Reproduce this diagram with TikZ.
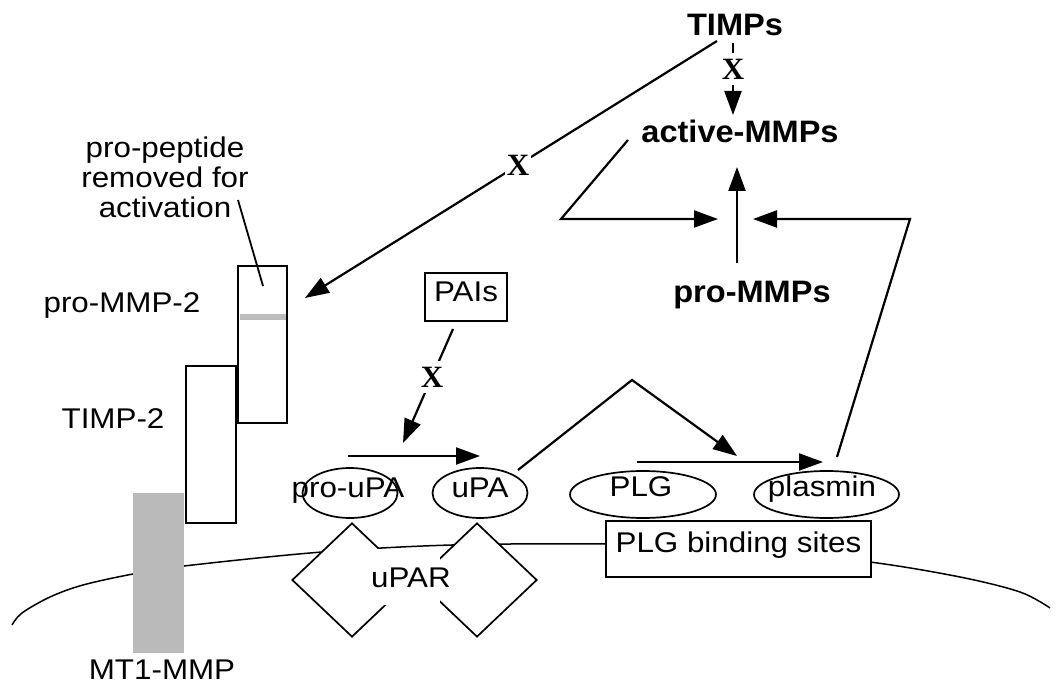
\documentclass[tikz,border=0pt]{standalone}
\usepackage{fontspec}
\setmainfont{Liberation Sans}[FakeStretch=1.1]
\newfontfamily\headfont{Liberation Sans}[FakeStretch=1.05]
\newfontfamily\markfont{Liberation Serif}
\usetikzlibrary{arrows.meta,shapes.geometric}
\definecolor{mtgray}{gray}{0.73}
\definecolor{bandgray}{gray}{0.74}

\begin{document}
\begin{tikzpicture}[x=1pt,y=-1pt,
  lbl/.style={font=\fontsize{28.5}{30}\selectfont, inner sep=0pt},
  head/.style={font=\headfont\bfseries\fontsize{31}{34}\selectfont, inner sep=0pt},
  xmark/.style={font=\markfont\bfseries\fontsize{31}{31}\selectfont, fill=white,
                inner sep=0pt, minimum width=26pt, minimum height=32pt},
  arr/.style={line width=2.2pt, -{Triangle[length=24pt,width=17pt]}},
  pointer/.style={line width=1.8pt},
  frame/.style={draw, line width=1.7pt, inner sep=0pt},
  blob/.style={draw, ellipse, line width=1.7pt, inner sep=0pt},
  rhomb/.style={draw, diamond, fill=white, line width=1.7pt, inner sep=0pt,
                minimum width=120pt, minimum height=114pt},
]
\useasboundingbox (0,0) rectangle (1061,684);

% cell membrane
\draw[line width=1.5pt] plot[smooth, tension=0.55] coordinates {
  (12,625) (22,613) (50,597) (83,585) (133,574) (184,566) (322,552)
  (452,545) (605,544) (740,548) (870,562) (960,577) (1020,592) (1050,608)};

% MT1-MMP / TIMP-2 / pro-MMP-2 complex
\node[fill=mtgray, inner sep=0pt, minimum width=51pt, minimum height=160pt] (mt1) at (158.5,573) {};
\node[frame, minimum width=50pt, minimum height=157pt] (timp2box) at (211,444.5) {};
\node[frame, minimum width=49pt, minimum height=157pt] (mmp2box) at (262.5,344.5) {};
\fill[bandgray] (239.5,314) rectangle (285.5,320);

\node[lbl, anchor=base] (mmp2) at (122,313) {pro-MMP-2};
\node[lbl, anchor=base] (timp2) at (113,429) {TIMP-2};
\node[lbl, anchor=base] (mt1lbl) at (162,679) {MT1-MMP};
\node[lbl, align=center, anchor=north] (prop) at (165,137) {pro-peptide\\removed for\\activation};
\coordinate (propA) at (238,200);
\coordinate (propB) at (263,286);
\draw[pointer] (propA) -- (propB);

% uPAR pair
\node[rhomb] (uparL) at (352,580) {};
\node[rhomb] (uparR) at (477,580) {};
\fill[white] (378,549) rectangle (440,605);
\node[lbl, anchor=base] (upar) at (411,587) {uPAR};

% ligands on the surface
\node[lbl, anchor=base] (proupaT) at (348,498) {pro-uPA};
\node[blob, minimum width=95pt, minimum height=50pt] (proupa) at (350,493) {};
\node[lbl, anchor=base] (upaT) at (480,498) {uPA};
\node[blob, minimum width=95pt, minimum height=50pt] (upa) at (480,493) {};
\node[lbl, anchor=base] (plgT) at (641,497) {PLG};
\node[blob, minimum width=146pt, minimum height=47pt] (plg) at (643,494.5) {};
\node[lbl, anchor=base] (plasminT) at (822,497) {plasmin};
\node[blob, minimum width=145pt, minimum height=47pt] (plasmin) at (826.5,494.5) {};
\node[frame, lbl, fill=white, minimum width=265pt, minimum height=56pt,
      text height=19pt, text depth=11pt] (sites) at (738.5,549) {PLG binding sites};

% inhibitors and MMP species
\node[frame, lbl, minimum width=82pt, minimum height=48pt,
      text height=19pt, text depth=9pt] (pais) at (466,297) {PAIs};
\node[head, anchor=base] (timps) at (735,36) {TIMPs};
\node[head, anchor=base] (active) at (740,143) {active-MMPs};
\node[head, anchor=base] (prommps) at (752,303) {pro-MMPs};

% connector end points
\coordinate (timpsA) at (717,41);
\coordinate (mmp2In) at (305,298);
\coordinate (timpsB) at (733,43);
\coordinate (activeIn) at (733,115);
\coordinate (paisOut) at (453,329);
\coordinate (activation) at (403,443);
\coordinate (proupaOut) at (348,456);
\coordinate (upaIn) at (480,456);
\coordinate (upaOut) at (518,470);
\coordinate (peak) at (632,380);
\coordinate (plgOut) at (637,462);
\coordinate (conv) at (737,456);
\coordinate (plasminIn) at (823,462);
\coordinate (plasminOut) at (837,457);
\coordinate (rightTurn) at (910,219);
\coordinate (rightIn) at (753,219);
\coordinate (activeOut) at (628,140);
\coordinate (leftTurn) at (561,219);
\coordinate (leftIn) at (718,219);
\coordinate (prommpsOut) at (737,263);
\coordinate (activeBelow) at (737,167);

% inhibition arrows
\draw[arr] (timpsA) -- node[xmark, pos=0.483] {X} (mmp2In);
\draw[arr] (timpsB) -- node[xmark, pos=0.36] {X} (activeIn);
\draw[arr] (paisOut) -- node[xmark, pos=0.42] {X} (activation);

% activation cascade
\draw[arr] (proupaOut) -- (upaIn);
\draw[arr] (upaOut) -- (peak) -- (conv);
\draw[arr] (plgOut) -- (plasminIn);
\draw[arr] (plasminOut) -- (rightTurn) -- (rightIn);
\draw[arr] (activeOut) -- (leftTurn) -- (leftIn);
\draw[arr] (prommpsOut) -- (activeBelow);
\end{tikzpicture}
\end{document}
